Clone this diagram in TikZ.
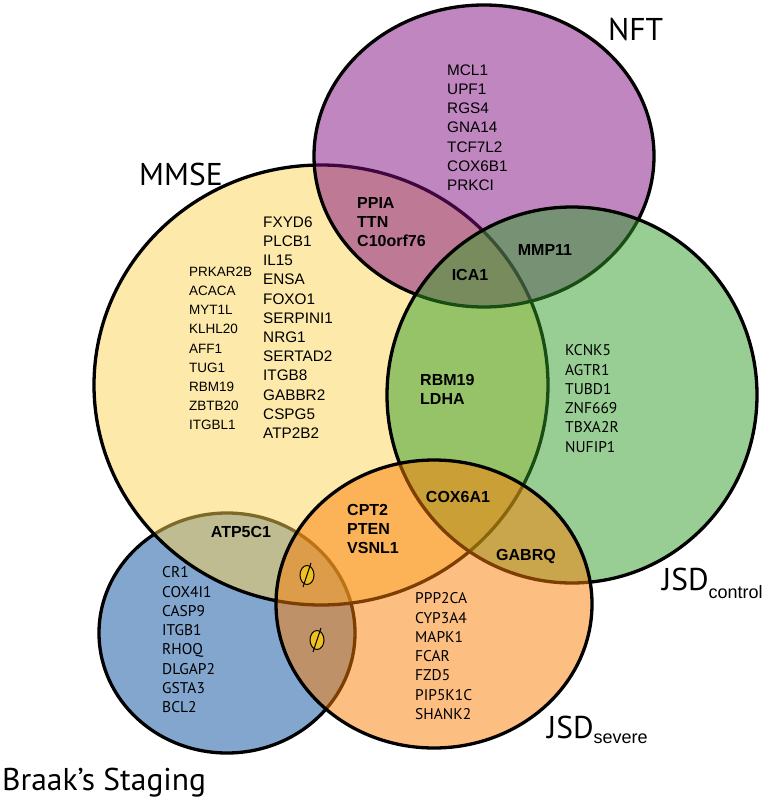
\documentclass[tikz,border=0pt]{standalone}
\usepackage{fontspec}
\setmainfont{Liberation Sans}
\newfontfamily\labelfont{PT Sans}
\usetikzlibrary{shapes.geometric}

\definecolor{braakblue}{RGB}{5,77,157}
\definecolor{mmseyellow}{RGB}{251,211,83}
\definecolor{nftpurple}{RGB}{129,13,129}
\definecolor{ctrlgreen}{RGB}{49,157,41}
\definecolor{sevorange}{RGB}{251,125,5}
\definecolor{phigold}{RGB}{240,192,32}

\tikzset{
  venn/.style={draw=black, line width=3.3pt, fill opacity=0.5},
  genes/.style={font=\fontsize{15.3}{19.2}\selectfont, align=left, anchor=north west, inner sep=0pt},
  genesbold/.style={genes, font=\fontsize{16}{19}\selectfont\bfseries},
  genesmyr/.style={genes, font=\labelfont\fontsize{15.5}{19.3}\selectfont},
  setname/.style={font=\labelfont\fontsize{31.5}{32}\selectfont, anchor=base west, inner sep=0pt},
  emptyset/.style={ellipse, draw=black, line width=1pt, fill=phigold, minimum width=14pt, minimum height=19pt, inner sep=0pt}
}

\begin{document}
\begin{tikzpicture}[x=1pt, y=-1pt]
\useasboundingbox (0,0) rectangle (764,802);
% sets
\draw[venn, fill=braakblue] (227,633) ellipse [x radius=128, y radius=120];
\draw[venn, fill=mmseyellow] (321,385) ellipse [x radius=227, y radius=220];
\draw[venn, fill=nftpurple] (484,156) ellipse [x radius=170, y radius=151];
\draw[venn, fill=ctrlgreen] (572,395) ellipse [x radius=185, y radius=188];
\draw[venn, fill=sevorange] (434,604) ellipse [x radius=158, y radius=144];
% set names
\node[setname] (mmse) at (139,186) {MMSE};
\node[setname] (nft) at (608,41) {NFT};
\node[setname] (jsdc) at (662,590) {JSD\raisebox{-8pt}{\normalfont\fontsize{18}{18}\selectfont control}};
\node[setname] (jsds) at (547,738) {JSD\raisebox{-5pt}{\normalfont\fontsize{18}{18}\selectfont severe}};
\node[setname] (braak) at (2,790) {Braak’s Staging};
% genes
\node[genes] (nftonly) at (447,64.5) {MCL1\\UPF1\\RGS4\\GNA14\\TCF7L2\\COX6B1\\PRKCI};
\node[genesbold] (mmsenft) at (357,197) {PPIA\\TTN\\C10orf76};
\node[genes, font=\fontsize{13.5}{19.1}\selectfont] (mmseleft) at (189,267) {PRKAR2B\\ACACA\\MYT1L\\KLHL20\\AFF1\\TUG1\\RBM19\\ZBTB20\\ITGBL1};
\node[genes] (mmseright) at (263,216.5) {FXYD6\\PLCB1\\IL15\\ENSA\\FOXO1\\SERPINI1\\NRG1\\SERTAD2\\ITGB8\\GABBR2\\CSPG5\\ATP2B2};
\node[genesbold, anchor=center] (ica) at (470,275) {ICA1};
\node[genesbold, anchor=center] (mmp) at (545,250) {MMP11};
\node[genesbold] (mmsectrl) at (420,374) {RBM19\\LDHA};
\node[genesmyr] (ctrlonly) at (565,344.5) {KCNK5\\AGTR1\\TUBD1\\ZNF669\\TBXA2R\\NUFIP1};
\node[genesbold, anchor=center] (cox) at (458,497) {COX6A1};
\node[genesbold, anchor=center] (gabrq) at (526,556) {GABRQ};
\node[genesbold] (mmsesev) at (347,504) {CPT2\\PTEN\\VSNL1};
\node[genesbold, anchor=center] (atp) at (241,532) {ATP5C1};
\node[genesmyr] (braakonly) at (162,566.5) {CR1\\COX4I1\\CASP9\\ITGB1\\RHOQ\\DLGAP2\\GSTA3\\BCL2};
\node[genesmyr] (sevonly) at (415,592.5) {PPP2CA\\CYP3A4\\MAPK1\\FCAR\\FZD5\\PIP5K1C\\SHANK2};
% empty overlaps
\node[emptyset] (phiA) at (307,575) {};
\node[emptyset] (phiB) at (317,640) {};
\draw[line width=1pt] (phiA.center) ++(-4,12) -- ++(8,-24);
\draw[line width=1pt] (phiB.center) ++(-4,12) -- ++(8,-24);
\end{tikzpicture}
\end{document}
